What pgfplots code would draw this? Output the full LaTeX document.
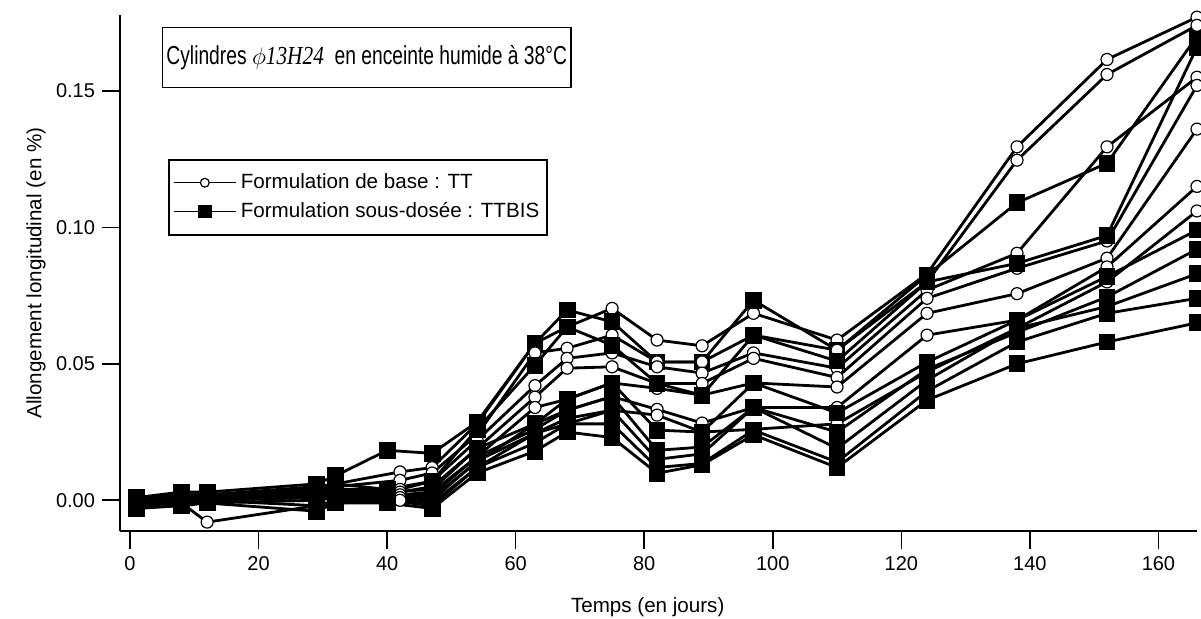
\documentclass[border=0pt]{standalone}
\usepackage{pgfplots}
\pgfplotsset{compat=1.18}
\usepackage{fontspec}
\setmainfont{Liberation Sans}
\newfontfamily\timesf{Liberation Serif}
\newfontfamily\condf{Liberation Sans}[FakeStretch=0.74]
\newfontfamily\condtimesf{Liberation Serif}[FakeStretch=0.82]
\pgfplotsset{
  tt/.style={black, line width=1.4pt, mark=*, mark size=3pt,
    mark options={solid, fill=white, draw=black, line width=0.6pt}},
  bis/.style={black, line width=1.4pt, mark=square*, mark size=3.5pt,
    mark options={solid, fill=black, draw=black}},
}
\begin{document}
\begin{tikzpicture}
\useasboundingbox (-60pt,-44pt) rectangle (540.5pt,265.5pt);
\begin{axis}[
  scale only axis, width=538.5pt, height=258pt,
  at={(0,0)}, anchor=south west,
  xmin=-1.56, xmax=166, ymin=-0.01125, ymax=0.1778,
  axis x line*=bottom, axis y line*=left,
  axis line style={line width=0.8pt, -},
  tick align=outside, major tick length=9pt,
  tick style={line width=0.8pt, black},
  xtick={0,20,...,160}, ytick={0,0.05,0.1,0.15},
  scaled y ticks=false,
  y tick label style={/pgf/number format/.cd, fixed, fixed zerofill, precision=2, /tikz/.cd},
  /pgf/number format/assume math mode=true,
  ticklabel style={font=\fontsize{10}{12}\selectfont},
  xlabel={Temps (en jours)}, ylabel={Allongement longitudinal (en \%)},
  label style={font=\fontsize{10.3}{12}\selectfont},
  xlabel style={at={(axis description cs:0.49,-0.147)}, anchor=center},
  ylabel style={at={(axis description cs:-0.078,0.5)}, anchor=center},
  clip=false,
  legend style={at={(0.0446,0.721)}, anchor=north west, draw=black, line width=0.8pt,
    font=\fontsize{10.3}{12}\selectfont, inner xsep=2pt, inner ysep=5pt, row sep=1.5pt},
  legend cell align=left,
]
% TT series (open circles)
\addplot[tt, legend image code/.code={
  \draw[line width=0.7pt] (0cm,0cm) -- (1.1cm,0cm);
  \draw[line width=0.6pt, fill=white] (0.55cm,0cm) circle (2.2pt);}]
coordinates {(1,0.001)(8,0.002)(12,0.002)(29,0.005)(32,0.006)(42,0.0104)(47,0.012)(54,0.028)(63,0.0575)(68,0.0635)(75,0.0703)(82,0.0587)(89,0.0566)(97,0.0685)(110,0.0587)(124,0.083)(138,0.1295)(152,0.1615)(166,0.177)};
\addlegendentry{Formulation de base : TT}
\addplot[bis, legend image code/.code={
  \draw[line width=0.7pt] (0cm,0cm) -- (1.1cm,0cm);
  \fill (0.45cm,-2.6pt) rectangle (0.65cm,2.6pt);}]
coordinates {(1,0.001)(8,0.003)(12,0.003)(29,0.006)(32,0.009)(40,0.0183)(47,0.0172)(54,0.0287)(63,0.0575)(68,0.0697)(75,0.0654)(82,0.0507)(89,0.0507)(97,0.0733)(110,0.055)(124,0.0825)(138,0.109)(152,0.1235)(166,0.170)};
\addlegendentry{Formulation sous-dosée : TTBIS}
\addplot[tt, forget plot] coordinates {(1,0.000)(8,0.002)(12,0.001)(29,0.004)(32,0.005)(42,0.0073)(47,0.010)(54,0.024)(63,0.054)(68,0.0557)(75,0.0605)(82,0.0507)(89,0.0507)(97,0.0605)(110,0.055)(124,0.080)(138,0.1246)(152,0.156)(166,0.174)};
\addplot[tt, forget plot] coordinates {(1,0.000)(8,0.001)(12,0.001)(29,0.003)(32,0.004)(42,0.004)(47,0.007)(54,0.022)(63,0.042)(68,0.052)(75,0.054)(82,0.0489)(89,0.0466)(97,0.054)(110,0.0484)(124,0.077)(138,0.0905)(152,0.1295)(166,0.155)};
\addplot[tt, forget plot] coordinates {(1,-0.001)(8,0.001)(12,0.000)(29,0.002)(32,0.003)(42,0.003)(47,0.005)(54,0.019)(63,0.0378)(68,0.0484)(75,0.0489)(82,0.0428)(89,0.0428)(97,0.052)(110,0.045)(124,0.074)(138,0.085)(152,0.095)(166,0.152)};
\addplot[tt, forget plot] coordinates {(1,-0.001)(8,0.000)(12,0.000)(29,0.001)(32,0.002)(42,0.002)(47,0.003)(54,0.016)(63,0.034)(68,0.037)(75,0.043)(82,0.041)(89,0.0385)(97,0.043)(110,0.0415)(124,0.0685)(138,0.0757)(152,0.0887)(166,0.136)};
\addplot[tt, forget plot] coordinates {(1,-0.002)(8,-0.001)(12,-0.001)(29,0.000)(32,0.001)(42,0.001)(47,0.001)(54,0.014)(63,0.028)(68,0.033)(75,0.038)(82,0.0333)(89,0.0283)(97,0.034)(110,0.034)(124,0.0605)(138,0.066)(152,0.0855)(166,0.115)};
\addplot[tt, forget plot] coordinates {(1,-0.002)(8,-0.001)(12,-0.008)(29,-0.002)(32,-0.001)(42,0.000)(47,-0.001)(54,0.012)(63,0.0245)(68,0.028)(75,0.033)(82,0.0312)(89,0.025)(97,0.026)(110,0.028)(124,0.047)(138,0.063)(152,0.080)(166,0.106)};
% TTBIS series (filled squares)
\addplot[bis, forget plot] coordinates {(1,0.000)(8,0.002)(12,0.002)(29,0.004)(32,0.006)(40,0.004)(47,0.007)(54,0.026)(63,0.0495)(68,0.0635)(75,0.0568)(82,0.0428)(89,0.0385)(97,0.0605)(110,0.051)(124,0.080)(138,0.0868)(152,0.097)(166,0.166)};
\addplot[bis, forget plot] coordinates {(1,0.000)(8,0.001)(12,0.002)(29,0.003)(32,0.004)(40,0.003)(47,0.004)(54,0.019)(63,0.028)(68,0.037)(75,0.043)(82,0.0257)(89,0.025)(97,0.043)(110,0.032)(124,0.0506)(138,0.066)(152,0.082)(166,0.099)};
\addplot[bis, forget plot] coordinates {(1,-0.001)(8,0.001)(12,0.001)(29,0.002)(32,0.003)(40,0.002)(47,0.002)(54,0.016)(63,0.026)(68,0.033)(75,0.038)(82,0.0183)(89,0.0195)(97,0.034)(110,0.025)(124,0.048)(138,0.0615)(152,0.0745)(166,0.092)};
\addplot[bis, forget plot] coordinates {(1,-0.002)(8,0.000)(12,0.000)(29,0.001)(32,0.002)(40,0.001)(47,0.000)(54,0.0145)(63,0.0245)(68,0.030)(75,0.033)(82,0.015)(89,0.017)(97,0.034)(110,0.019)(124,0.044)(138,0.063)(152,0.071)(166,0.083)};
\addplot[bis, forget plot] coordinates {(1,-0.002)(8,-0.001)(12,0.000)(29,-0.002)(32,0.000)(40,0.000)(47,-0.002)(54,0.012)(63,0.021)(68,0.028)(75,0.028)(82,0.012)(89,0.0135)(97,0.0257)(110,0.014)(124,0.040)(138,0.058)(152,0.0685)(166,0.074)};
\addplot[bis, forget plot] coordinates {(1,-0.003)(8,-0.002)(12,-0.001)(29,-0.004)(32,-0.001)(40,-0.001)(47,-0.003)(54,0.010)(63,0.018)(68,0.025)(75,0.023)(82,0.0099)(89,0.013)(97,0.024)(110,0.012)(124,0.0367)(138,0.050)(152,0.058)(166,0.065)};
\node[draw, line width=0.8pt, anchor=north west, minimum height=30pt, inner xsep=2pt,
  font=\condf\fontsize{13}{15}\selectfont] at (rel axis cs:0.0387,0.977)
  {Cylindres $\phi${\condtimesf\itshape 13H24}\ \ en enceinte humide à 38°C};
\end{axis}
\end{tikzpicture}
\end{document}
